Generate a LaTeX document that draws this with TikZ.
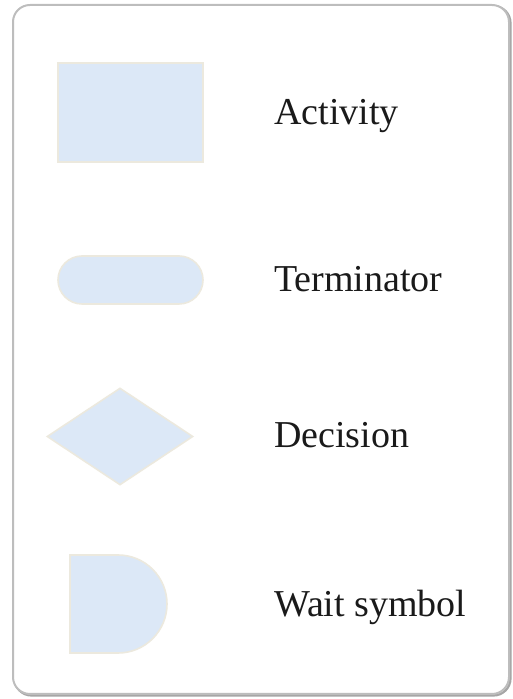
\documentclass[tikz,border=0pt]{standalone}
\usepackage{fontspec}
\setmainfont{Liberation Serif}
\usetikzlibrary{shapes.geometric,shapes.misc}
\definecolor{shapefill}{HTML}{DCE8F7}
\definecolor{shapeedge}{HTML}{ECE9DE}
\definecolor{frameedge}{HTML}{BDBDBD}
\definecolor{labeltext}{HTML}{1A1A1A}
\begin{document}
\begin{tikzpicture}[x=1pt,y=1pt,
  symbolbox/.style={fill=shapefill,draw=shapeedge,line width=1.6pt,inner sep=0pt},
  legendlabel/.style={anchor=base west,inner sep=0pt,text=labeltext,
    font=\fontsize{38pt}{45pt}\selectfont}]
  \useasboundingbox (0,0) rectangle (512,699);
  % frame with a soft drop shadow
  \draw[line width=2.2pt,draw=black!35,rounded corners=17pt] (14.5,693) rectangle (510.5,3.5);
  \draw[line width=2pt,draw=frameedge,fill=white,rounded corners=17pt] (13,694) rectangle (509,5);
  % legend symbols
  \node[symbolbox,rectangle,minimum width=145pt,minimum height=99pt] (act) at (130.5,586.5) {};
  \node[symbolbox,rounded rectangle,minimum width=145pt,minimum height=48pt] (term) at (130.5,419) {};
  \node[symbolbox,diamond,minimum width=146pt,minimum height=97pt] (dec) at (120,262.5) {};
  \draw[fill=shapefill,draw=shapeedge,line width=1.6pt]
    (70,144) -- (118,144) arc (90:-90:49) -- (70,46) -- cycle;
  \coordinate (wait) at (118,95);
  % labels
  \node[legendlabel] (lact) at (274,574) {Activity};
  \node[legendlabel] (lterm) at (274,407) {Terminator};
  \node[legendlabel] (ldec) at (274,251) {Decision};
  \node[legendlabel] (lwait) at (274,82) {Wait symbol};
\end{tikzpicture}
\end{document}
